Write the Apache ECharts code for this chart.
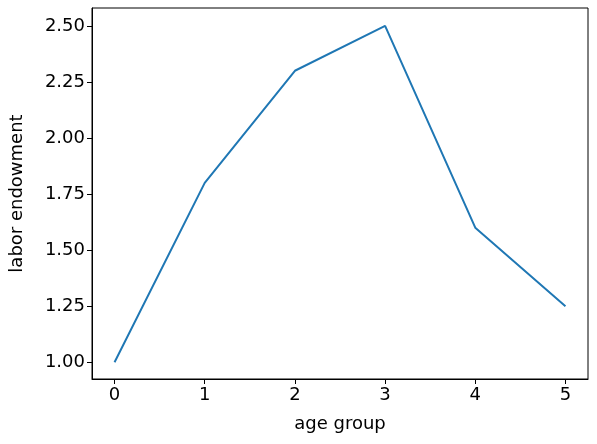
<!DOCTYPE html>
<html><head><meta charset="utf-8">
<script src="https://cdn.jsdelivr.net/npm/echarts@6/dist/echarts.min.js"></script>
<style>html,body{margin:0;padding:0;background:#fff}#c{width:597px;height:444px}</style>
</head><body><div id="c"></div>
<script>
const ageGroups = [0, 1, 2, 3, 4, 5];
const laborEndowment = [1.0, 1.8, 2.3, 2.5, 1.6, 1.25];
const xTicks = [0, 1, 2, 3, 4, 5];
const yTicks = [1.0, 1.25, 1.5, 1.75, 2.0, 2.25, 2.5];
const chart = echarts.init(document.getElementById('c'));
const lab = {color:'#000', fontSize:18, fontFamily:'DejaVu Sans'};
chart.setOption({
  animation:false,
  grid:{left:92,right:9,top:8,bottom:65,show:true,borderColor:'#000',borderWidth:1},
  xAxis:{type:'value',min:-0.25,max:5.25,name:'age group',nameLocation:'middle',nameGap:36,
    nameTextStyle:{...lab},
    axisLine:{onZero:false,lineStyle:{color:'#000'}},splitLine:{show:false},
    axisTick:{show:true,length:5,lineStyle:{color:'#000'},customValues:xTicks},
    axisLabel:{...lab,margin:7,customValues:xTicks,formatter:v=>String(v)}},
  yAxis:{type:'value',min:0.925,max:2.58,name:'labor endowment',nameLocation:'middle',nameGap:66,
    nameTextStyle:{...lab},
    axisLine:{show:true,onZero:false,lineStyle:{color:'#000'}},splitLine:{show:false},
    axisTick:{show:true,length:5,lineStyle:{color:'#000'},customValues:yTicks},
    axisLabel:{...lab,margin:7,customValues:yTicks,formatter:v=>v.toFixed(2)}},
  series:[{type:'line',data:ageGroups.map((x,i)=>[x,laborEndowment[i]]),
    symbol:'none',lineStyle:{color:'#1f77b4',width:2}}]
});
</script></body></html>
